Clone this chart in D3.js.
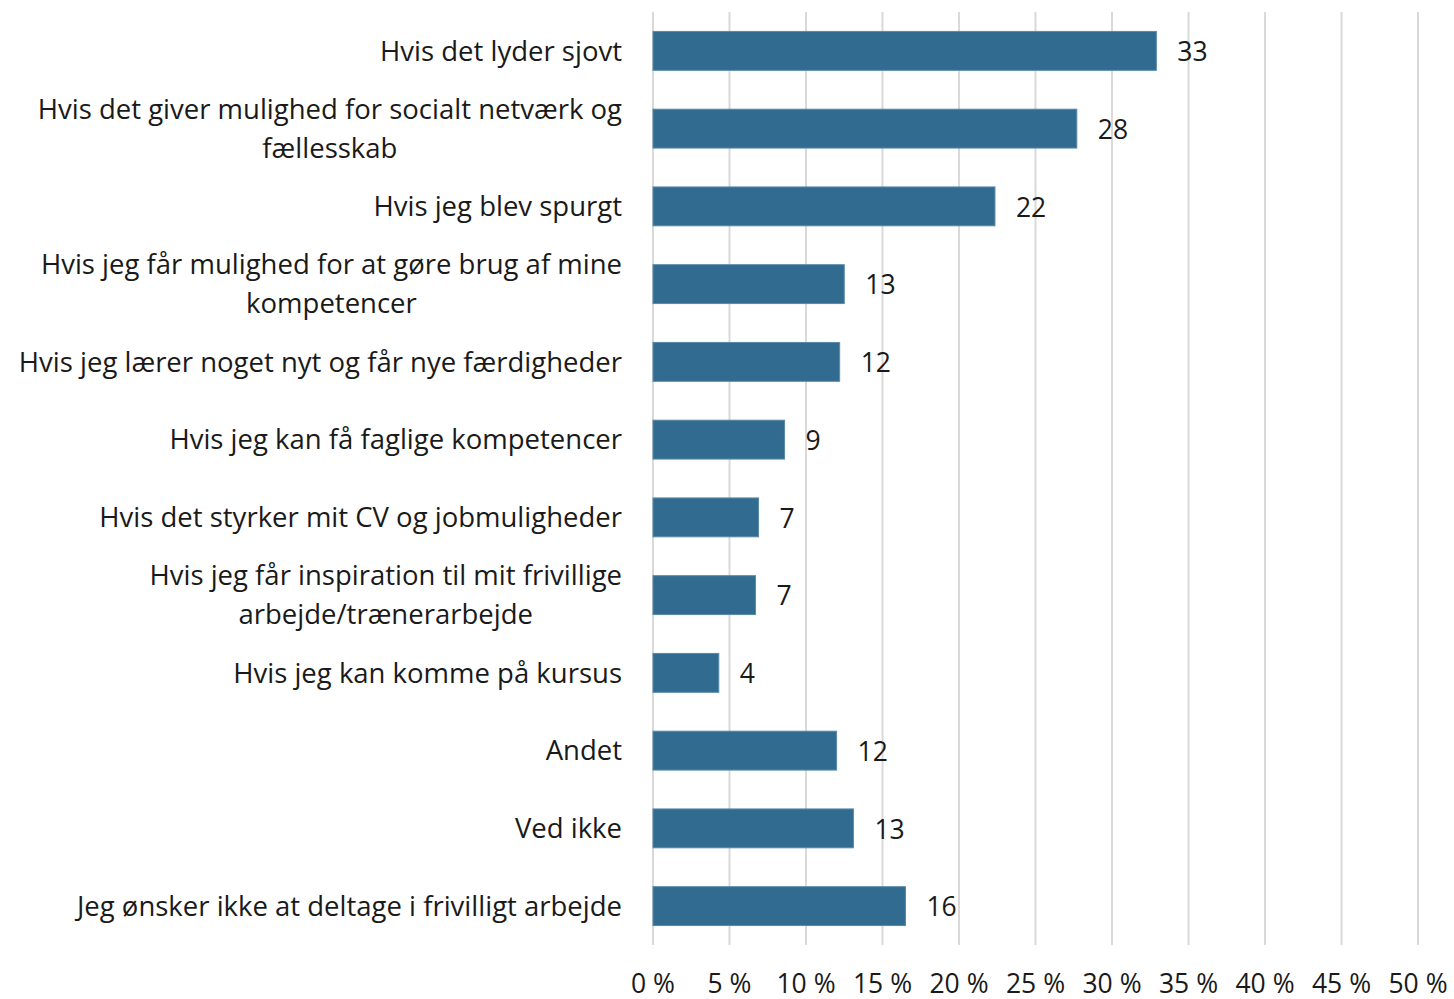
<!DOCTYPE html>
<html>
<head>
<meta charset="utf-8">
<script src="https://cdn.jsdelivr.net/npm/d3@7"></script>
<style>
  body { margin: 0; background: #fff; }
  text { font-family: "Open Sans", "Noto Sans", sans-serif; fill: #1a1a1a; }
</style>
</head>
<body>
<svg id="chart" width="1454" height="999"></svg>
<script>
// categories (top to bottom), each label split into its display lines
var categories = [
    ["Hvis det lyder sjovt"],
    ["Hvis det giver mulighed for socialt netværk og", "fællesskab"],
    ["Hvis jeg blev spurgt"],
    ["Hvis jeg får mulighed for at gøre brug af mine", "kompetencer"],
    ["Hvis jeg lærer noget nyt og får nye færdigheder"],
    ["Hvis jeg kan få faglige kompetencer"],
    ["Hvis det styrker mit CV og jobmuligheder"],
    ["Hvis jeg får inspiration til mit frivillige", "arbejde/trænerarbejde"],
    ["Hvis jeg kan komme på kursus"],
    ["Andet"],
    ["Ved ikke"],
    ["Jeg ønsker ikke at deltage i frivilligt arbejde"]
];
var values = [32.9, 27.7, 22.35, 12.5, 12.2, 8.6, 6.9, 6.7, 4.3, 12.0, 13.1, 16.5];
var valueLabels = ["33", "28", "22", "13", "12", "9", "7", "7", "4", "12", "13", "16"];
var ticks = [0, 5, 10, 15, 20, 25, 30, 35, 40, 45, 50];

var svg = d3.select('#chart');
var plotLeft = 653, plotRight = 1418, plotTop = 12, plotBottom = 945;

var xScale = d3.scaleLinear().domain([0, 50]).range([plotLeft, plotRight]);
var yScale = d3.scaleBand()
    .domain(d3.range(categories.length))
    .range([plotTop, plotBottom])
    .paddingInner(0.5)
    .paddingOuter(0.25);

// gridlines
svg.append('g').selectAll('line')
    .data(ticks)
    .enter().append('line')
    .attr('x1', function (d) { return xScale(d); })
    .attr('x2', function (d) { return xScale(d); })
    .attr('y1', plotTop)
    .attr('y2', plotBottom)
    .attr('stroke', '#d9d9d9')
    .attr('stroke-width', 2);

// x tick labels
svg.append('g').selectAll('text')
    .data(ticks)
    .enter().append('text')
    .attr('x', function (d) { return xScale(d); })
    .attr('y', 984)
    .attr('dy', '0.35em')
    .attr('text-anchor', 'middle')
    .attr('font-size', 26.5)
    .text(function (d) { return d + ' %'; });

// bars
svg.append('g').selectAll('rect')
    .data(values)
    .enter().append('rect')
    .attr('x', xScale(0))
    .attr('y', function (d, i) { return yScale(i); })
    .attr('width', function (d) { return xScale(d) - xScale(0); })
    .attr('height', yScale.bandwidth())
    .attr('fill', '#316b8f')
    .attr('stroke', '#5a8aa8')
    .attr('stroke-width', 1);

// value labels
svg.append('g').selectAll('text')
    .data(values)
    .enter().append('text')
    .attr('x', function (d) { return xScale(d) + 21; })
    .attr('y', function (d, i) { return yScale(i) + yScale.bandwidth() / 2 + 1; })
    .attr('dy', '0.35em')
    .attr('font-size', 26.5)
    .text(function (d, i) { return valueLabels[i]; });

// category labels
var lineH = 39;
var catG = svg.append('g');
categories.forEach(function (lines, i) {
    var cy = yScale(i) + yScale.bandwidth() / 2;
    var t = catG.append('text')
        .attr('font-size', 27.5)
        .attr('text-anchor', lines.length > 1 ? 'middle' : 'end');
    lines.forEach(function (ln, j) {
        t.append('tspan')
            .attr('x', 622)
            .attr('y', cy + (j - (lines.length - 1) / 2) * lineH)
            .attr('dy', '0.35em')
            .text(ln);
    });
});

// wrapped labels: first line ends at 622, second line centred under it
catG.selectAll('text').each(function () {
    var tsp = d3.select(this).selectAll('tspan');
    if (tsp.size() > 1) {
        var w = tsp.nodes()[0].getComputedTextLength();
        tsp.attr('x', 622 - w / 2);
    }
});
</script>
</body>
</html>
